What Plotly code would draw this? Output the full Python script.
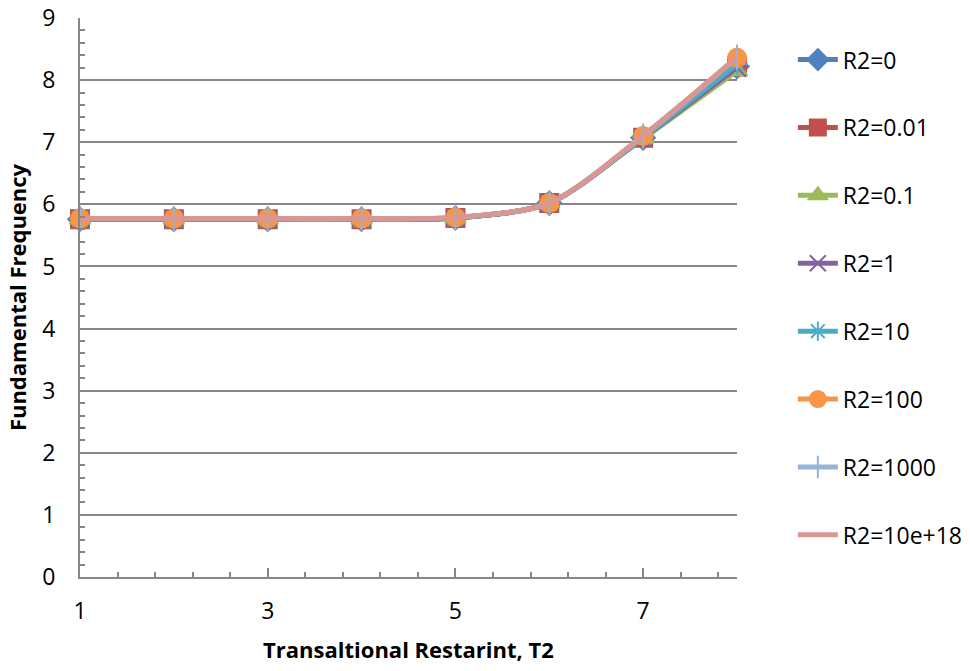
import plotly.graph_objects as go

x_vals = [1, 2, 3, 4, 5, 6, 7, 8]
series_names = ["R2=0", "R2=0.01", "R2=0.1", "R2=1", "R2=10", "R2=100", "R2=1000", "R2=10e+18"]
y_r0 = [5.76, 5.76, 5.76, 5.76, 5.78, 6.02, 7.07, 8.22]
y_r001 = [5.76, 5.76, 5.76, 5.76, 5.78, 6.02, 7.07, 8.22]
y_r01 = [5.76, 5.76, 5.76, 5.76, 5.78, 6.02, 7.06, 8.15]
y_r1 = [5.76, 5.76, 5.76, 5.76, 5.78, 6.02, 7.07, 8.20]
y_r10 = [5.76, 5.76, 5.76, 5.76, 5.78, 6.02, 7.08, 8.26]
y_r100 = [5.77, 5.77, 5.77, 5.77, 5.79, 6.02, 7.10, 8.36]
y_r1000 = [5.77, 5.77, 5.77, 5.77, 5.79, 6.02, 7.10, 8.37]
y_rinf = [5.77, 5.77, 5.77, 5.77, 5.79, 6.02, 7.11, 8.37]
all_y = [y_r0, y_r001, y_r01, y_r1, y_r10, y_r100, y_r1000, y_rinf]

colors = ["#4F81BD", "#C0504D", "#9BBB59", "#8064A2", "#4BACC6", "#F79646", "#95B3D7", "#DA9694"]
symbols = ["diamond", "square", "triangle-up", "x-thin-open", "asterisk-open", "circle", "line-ns-open", None]

fig = go.Figure()
for i, (name, ys) in enumerate(zip(series_names, all_y)):
    sym = symbols[i]
    mode = "lines+markers" if sym else "lines"
    marker = dict(color=colors[i], size=18, symbol=sym,
                  line=dict(color=colors[i], width=2)) if sym else None
    fig.add_trace(go.Scatter(
        x=x_vals, y=ys, name=name, mode=mode, cliponaxis=False,
        line=dict(color=colors[i], width=5, shape="spline", smoothing=0.8),
        marker=marker, legendgroup=f"g{i}"))

fig.update_layout(
    width=970, height=671,
    margin=dict(l=80, r=233, t=18, b=94, autoexpand=False),
    paper_bgcolor="white", plot_bgcolor="white",
    font=dict(family="Open Sans, Noto Sans, sans-serif", size=22, color="black"),
    showlegend=True,
    legend=dict(x=1.085, y=0.964, xanchor="left", yanchor="top",
                font=dict(size=23), tracegroupgap=35, itemwidth=40,
                bgcolor="rgba(0,0,0,0)"),
    xaxis=dict(range=[1, 8], tick0=1, dtick=2, ticks="inside", ticklen=9,
               tickcolor="#868686", tickwidth=1.5, automargin=False,
               showgrid=False, zeroline=False, showline=True,
               linecolor="#868686", linewidth=2,
               minor=dict(tick0=1, dtick=0.4, ticks="inside", ticklen=5,
                          tickcolor="#868686", tickwidth=1.5),
               tickfont=dict(size=23), ticklabelstandoff=12,
               title=dict(text="<b>Transaltional Restarint, T2</b>", font=dict(size=22), standoff=18)),
    yaxis=dict(range=[0, 9], dtick=1, ticks="inside", ticklen=8,
               tickcolor="#868686", tickwidth=1.5, automargin=False,
               showgrid=True, gridcolor="#868686", gridwidth=1.5,
               zeroline=False, showline=True, linecolor="#868686", linewidth=2,
               minor=dict(dtick=0.2, ticks="inside", ticklen=5,
                          tickcolor="#868686", tickwidth=1.5, showgrid=False),
               tickfont=dict(size=23), ticklabelstandoff=18,
               title=dict(text="<b>Fundamental Frequency</b>", font=dict(size=22), standoff=10)),
)

fig.write_html("out.html")
